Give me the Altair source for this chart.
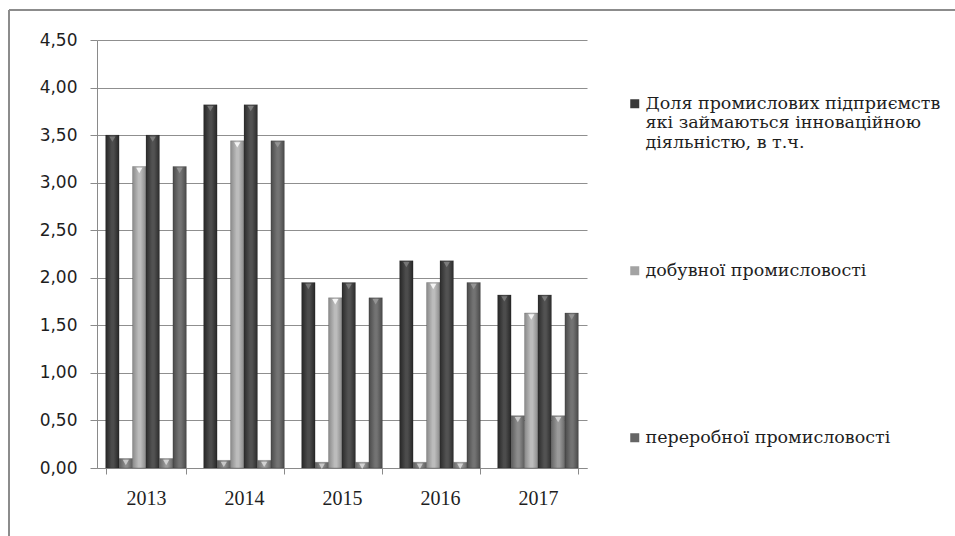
import altair as alt
import pandas as pd

# ---- data ----
years = ["2013", "2014", "2015", "2016", "2017"]
total_share = [3.50, 3.82, 1.95, 2.18, 1.82]        # Доля промислових підприємств ...
mining_share = [0.10, 0.08, 0.06, 0.06, 0.55]       # добувної промисловості
processing_share = [3.17, 3.44, 1.79, 1.95, 1.63]   # переробної промисловості

series_names = [
    "Доля промислових підприємств які займаються інноваційною діяльністю, в т.ч.",
    "добувної промисловості",
    "переробної промисловості",
]
legend_lines = [
    ["Доля промислових підприємств", "які займаються інноваційною", "діяльністю, в т.ч."],
    ["добувної промисловості"],
    ["переробної промисловості"],
]
# the original chart repeats the three series twice in every year
slot_series = [0, 1, 2, 0, 1, 2]
y_ticks = [0, 0.5, 1, 1.5, 2, 2.5, 3, 3.5, 4, 4.5]

# ---- styles ----
slot_center = ["#4c4c4c", "#8c8c8c", "#bcbcbc", "#525252", "#9a9a9a", "#737373"]
slot_edge = ["#262626", "#5c5c5c", "#8a8a8a", "#2c2c2c", "#686868", "#4a4a4a"]
slot_cap = ["#767676", "#c8c8c8", "#f4f4f4", "#7c7c7c", "#d2d2d2", "#949494"]
series_color = ["#383838", "#a3a3a3", "#656565"]
SERIF = "Liberation Serif"
LEGEND_FONT = "DejaVu Serif"

values_by_series = [total_share, mining_share, processing_share]
rows = []
for yi, yr in enumerate(years):
    for si, s in enumerate(slot_series):
        rows.append({"year": yr, "slot": si, "series": series_names[s],
                     "value": values_by_series[s][yi]})
df = pd.DataFrame(rows)

# legend label expression (equal entry heights of three lines)
def padded(lines):
    return lines + [""] * (3 - len(lines))
parts = []
for name, lines in zip(series_names, legend_lines):
    arr = "[" + ",".join("'" + t + "'" for t in padded(lines)) + "]"
    parts.append((name, arr))
label_expr = "datum.label == '%s' ? %s : datum.label == '%s' ? %s : %s" % (
    parts[0][0], parts[0][1], parts[1][0], parts[1][1], parts[2][1])

x_enc = alt.X("year:N", sort=years,
              scale=alt.Scale(paddingInner=0.176, paddingOuter=0.088),
              axis=alt.Axis(title=None, labelAngle=0, tickBand="extent",
                            labelFont=SERIF, labelFontSize=20, labelColor="#1e1e1e",
                            tickSize=6, labelPadding=14, domainColor="#8a8a8a",
                            tickColor="#8a8a8a", domainWidth=1))
xo_enc = alt.XOffset("slot:O", scale=alt.Scale(domain=list(range(6)), paddingInner=0, paddingOuter=0))
y_enc = alt.Y("value:Q", scale=alt.Scale(domain=[0, 4.5], nice=False),
              axis=alt.Axis(title=None, values=y_ticks,
                            labelExpr="replace(format(datum.value, '.2f'), '.', ',')",
                            labelFont="DejaVu Sans", labelFontSize=17, labelColor="#1e1e1e",
                            tickSize=7, labelPadding=13, grid=True, gridColor="#8f8f8f",
                            gridWidth=1, domainColor="#8a8a8a", tickColor="#8a8a8a"))

base = alt.Chart(df)

def shaded(edge, center):
    return alt.LinearGradient(
        gradient="linear", x1=0, x2=1, y1=0, y2=0,
        stops=[alt.GradientStop(color=edge, offset=0),
               alt.GradientStop(color=center, offset=0.45),
               alt.GradientStop(color=center, offset=0.6),
               alt.GradientStop(color=edge, offset=1)])

bar_layers = []
for i in range(6):
    bar_layers.append(
        base.transform_filter(alt.datum.slot == i)
        .mark_bar(fill=shaded(slot_edge[i], slot_center[i]), stroke="#222222",
                  strokeWidth=0.4, strokeOpacity=0.5)
        .encode(x=x_enc, xOffset=xo_enc, y=y_enc)
    )

caps = base.mark_point(shape="triangle-down", filled=True, size=38, opacity=1, yOffset=4).encode(
    x=x_enc, xOffset=xo_enc, y=y_enc,
    fill=alt.Fill("slot:O", scale=alt.Scale(domain=list(range(6)), range=slot_cap), legend=None),
)

legend_layer = base.mark_point(opacity=0, filled=True).encode(
    x=x_enc, xOffset=xo_enc, y=y_enc,
    color=alt.Color("series:N", sort=series_names,
                    scale=alt.Scale(domain=series_names, range=series_color),
                    legend=alt.Legend(orient="none", legendX=529, legendY=55, title=None,
                                      symbolType="square", symbolSize=81, symbolOpacity=1,
                                      symbolStrokeWidth=0, labelFont=LEGEND_FONT, labelFontSize=17.5,
                                      labelColor="#1e1e1e", labelLimit=400, labelOffset=2,
                                      rowPadding=109, padding=0, labelExpr=label_expr)),
)

frame_data = alt.Data(values=[{"k": 1}])
frame_top = alt.Chart(frame_data).mark_rule(color="#8c8c8c", strokeWidth=2).encode(
    x=alt.value(-88), x2=alt.value(1000), y=alt.value(-30))
frame_left = alt.Chart(frame_data).mark_rule(color="#8c8c8c", strokeWidth=2).encode(
    x=alt.value(-88), y=alt.value(-30), y2=alt.value(700))

chart = alt.layer(*bar_layers, caps, legend_layer, frame_top, frame_left).properties(
    width=490, height=428,
    padding={"left": 97, "top": 40, "right": 368, "bottom": 68},
    autosize=alt.AutoSizeParams(type="none"),
    background="white",
).configure_view(stroke=None).configure_legend(labelFont=LEGEND_FONT, labelFontSize=17.5)

chart.save("out.html", embed_options={"renderer": "svg", "actions": False})
